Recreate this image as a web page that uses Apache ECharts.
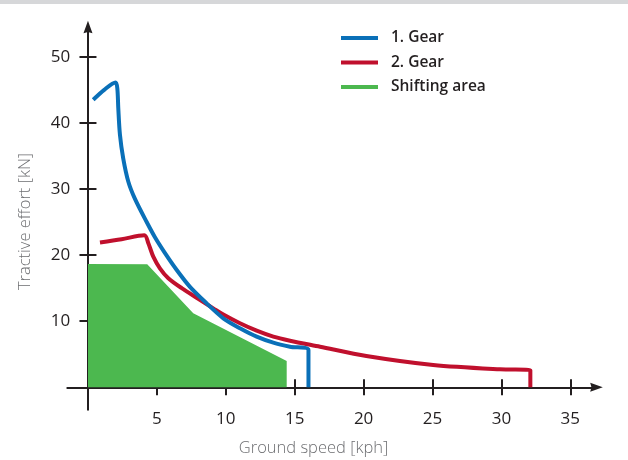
<!DOCTYPE html>
<html>
<head>
<meta charset="utf-8">
<title>Tractive effort</title>
<script src="https://cdn.jsdelivr.net/npm/echarts@6.0.0/dist/echarts.min.js"></script>
<style>
  html, body {
    margin: 0;
    padding: 0;
    background: #fff;
  }
  .top-band {
    position: absolute;
    left: 0;
    top: 0;
    width: 628px;
    height: 4px;
    background: #d6d7d9;
    z-index: 2;
  }
  #chart {
    position: absolute;
    left: 0;
    top: 0;
    width: 628px;
    height: 460px;
  }
</style>
</head>
<body>
<div class="top-band"></div>
<div id="chart"></div>
<script>
// ground speed [kph], tractive effort [kN]
const gear1 = [
  [0.38, 43.5], [1.18, 45.0], [2.0, 46.1], [2.13, 45.2], [2.2, 42.2],
  [2.32, 38.2], [2.56, 34.6], [2.93, 31.1], [3.41, 28.5], [4.26, 25.0],
  [4.86, 22.7], [5.59, 20.3], [6.44, 17.75], [7.4, 15.2], [8.61, 12.7],
  [9.82, 10.44], [11.03, 8.93], [12.24, 7.66], [13.45, 6.75], [14.66, 6.14],
  [16.0, 5.64], [16.0, 0]
]
const gear2 = [
  [0.87, 21.9], [2.44, 22.4], [4.09, 23.0], [4.38, 21.8], [4.74, 19.76],
  [5.22, 18.0], [5.83, 16.5], [6.8, 15.0], [8.0, 13.4], [9.09, 11.95],
  [9.82, 11.0], [11.03, 9.68], [12.24, 8.56], [13.45, 7.66], [14.66, 7.05],
  [16.84, 6.14], [20.2, 4.73], [25.05, 3.37], [29.9, 2.72], [32.1, 2.6],
  [32.1, 0]
]
const shiftingArea = [
  [0, 18.65], [4.3, 18.6], [7.64, 11.2], [14.42, 4.0], [14.42, 0]
]

const seriesNames = ['1. Gear', '2. Gear', 'Shifting area']
const xTicks = [5, 10, 15, 20, 25, 30, 35]
const yTicks = [10, 20, 30, 40, 50]
const xTitle = 'Ground speed [kph]'
const yTitle = 'Tractive effort [kN]'

const axisColor = '#231f20'
const titleColor = '#6d6e71'
const arrowPath = 'path://M5,0L10,14L5,12.6L0,14Z'

const chart = echarts.init(document.getElementById('chart'))

// main axis (line + arrow + labels + outer half of ticks)
const mainX = {
  type: 'value',
  min: -1.5,
  max: 36.9,
  position: 'bottom',
  axisLine: {
    onZero: true,
    onZeroAxisIndex: 0,
    symbol: ['none', arrowPath],
    symbolSize: [9, 14],
    lineStyle: { color: axisColor, width: 2 }
  },
  axisTick: {
    customValues: xTicks,
    length: 8,
    lineStyle: { color: axisColor, width: 2 }
  },
  axisLabel: {
    customValues: xTicks,
    margin: 1,
    fontSize: 17,
    color: axisColor,
    fontFamily: 'Open Sans'
  },
  splitLine: { show: false }
}

// second axis only draws the inner half of the ticks
const innerX = {
  type: 'value',
  min: -1.5,
  max: 36.9,
  position: 'top',
  axisLine: { show: false, onZero: true, onZeroAxisIndex: 1 },
  axisTick: {
    customValues: xTicks,
    length: 8,
    lineStyle: { color: axisColor, width: 2 }
  },
  axisLabel: { show: false },
  splitLine: { show: false }
}

const mainY = {
  type: 'value',
  min: -3.4,
  max: 54.5,
  position: 'left',
  axisLine: {
    onZero: true,
    onZeroAxisIndex: 0,
    symbol: ['none', arrowPath],
    symbolSize: [9, 14],
    lineStyle: { color: axisColor, width: 2 }
  },
  axisTick: {
    customValues: yTicks,
    length: 8.5,
    lineStyle: { color: axisColor, width: 2 }
  },
  axisLabel: {
    customValues: yTicks,
    margin: -3,
    fontSize: 17,
    color: axisColor,
    fontFamily: 'Open Sans'
  },
  splitLine: { show: false }
}

const innerY = {
  type: 'value',
  min: -3.4,
  max: 54.5,
  position: 'right',
  axisLine: { show: false, onZero: true, onZeroAxisIndex: 1 },
  axisTick: {
    customValues: yTicks,
    length: 8.5,
    lineStyle: { color: axisColor, width: 2 }
  },
  axisLabel: { show: false },
  splitLine: { show: false }
}

const lineSeries = (name, data, color, z) => ({
  name: name,
  type: 'line',
  data: data,
  color: color,
  z: z,
  smooth: 0.3,
  showSymbol: false,
  symbol: 'none',
  lineStyle: { color: color, width: 4, join: 'round' }
})

// axis titles as free text, v6 pushes axis names past the labels
const titleStyle = (text) => ({
  text: text,
  fill: titleColor,
  fontSize: 16.5,
  fontWeight: 300,
  fontFamily: 'Open Sans',
  align: 'center',
  verticalAlign: 'middle'
})

const option = {
  animation: false,
  grid: {
    left: 67.3,
    right: 31.5,
    top: 27,
    bottom: 50.2,
    outerBoundsMode: 'none',
    containLabel: false
  },
  graphic: [
    { type: 'text', x: 313.5, y: 448, style: titleStyle(xTitle) },
    { type: 'text', x: 25, y: 221.5, rotation: Math.PI / 2, style: titleStyle(yTitle) }
  ],
  legend: {
    data: seriesNames,
    orient: 'vertical',
    left: 341,
    top: 28,
    padding: 0,
    icon: 'rect',
    itemWidth: 37,
    itemHeight: 4,
    itemGap: 4.5,
    selectedMode: false,
    textStyle: {
      fontSize: 15.5,
      fontWeight: 600,
      color: axisColor,
      fontFamily: 'Open Sans',
      lineHeight: 20,
      padding: [0, 0, 0, 8]
    }
  },
  xAxis: [mainX, innerX],
  yAxis: [mainY, innerY],
  series: [
    lineSeries(seriesNames[0], gear1, '#0a70b8', 4),
    lineSeries(seriesNames[1], gear2, '#c0102d', 3),
    {
      name: seriesNames[2],
      type: 'line',
      data: shiftingArea,
      color: '#4cb84f',
      z: 1,
      showSymbol: false,
      symbol: 'none',
      lineStyle: { width: 0 },
      areaStyle: { color: '#4cb84f', opacity: 1 }
    }
  ]
}

chart.setOption(option)
</script>
</body>
</html>
